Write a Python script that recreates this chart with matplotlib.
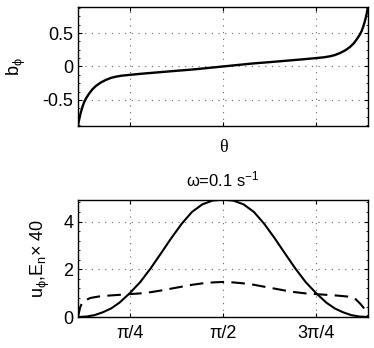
import numpy as np
import matplotlib.pyplot as plt
from matplotlib.ticker import MultipleLocator

plt.rcParams['font.family'] = ['Liberation Sans', 'DejaVu Sans']
plt.rcParams['mathtext.fontset'] = 'custom'
plt.rcParams['mathtext.rm'] = 'Liberation Sans'
plt.rcParams['mathtext.it'] = 'Liberation Sans'

# angles in degrees
theta_b = [20, 20.5, 21, 21.6, 22.3, 23, 24, 25.5, 27, 28.7, 31, 33.5, 36, 38.4, 41, 44.8, 52, 59.4, 67, 75.5, 82, 90,
           98, 104.5, 113, 120.6, 128, 135.2, 139, 141.6, 144, 146.5, 149, 151.3, 153, 154.5, 156, 157, 157.7, 158.4, 159, 159.5, 160]
b_phi = [-0.88, -0.80, -0.73, -0.66, -0.59, -0.53, -0.47, -0.40, -0.34, -0.29, -0.24, -0.20, -0.17, -0.152, -0.138,
         -0.126, -0.105, -0.086, -0.066, -0.045, -0.025, 0.0,
         0.025, 0.045, 0.066, 0.086, 0.105, 0.126, 0.138, 0.152, 0.17, 0.20, 0.24, 0.29, 0.34, 0.40, 0.47, 0.53,
         0.59, 0.66, 0.73, 0.80, 0.88]

theta_u = [20, 24, 28, 32, 36, 40, 45, 50, 55, 60, 65, 70, 75, 80, 85, 90,
           95, 100, 105, 110, 115, 120, 125, 130, 135, 140, 144, 148, 152, 156, 160]
u_phi = [0.0, 0.02, 0.08, 0.2, 0.36, 0.6, 1.0, 1.46, 2.03, 2.66, 3.3, 3.9, 4.4, 4.72, 4.88, 4.92,
         4.88, 4.72, 4.4, 3.9, 3.3, 2.66, 2.03, 1.46, 1.0, 0.6, 0.36, 0.2, 0.08, 0.02, 0.0]

theta_e = [20, 21, 22, 23.5, 26, 30, 35, 40, 45, 50, 55, 60, 65, 70, 75, 80, 85, 90,
           95, 100, 105, 110, 115, 120, 125, 130, 135, 140, 145, 150, 153.5, 156.5, 158, 160]
E_n40 = [0.0, 0.4, 0.6, 0.7, 0.8, 0.86, 0.9, 0.93, 0.96, 0.99, 1.04, 1.11, 1.19, 1.27, 1.35, 1.41, 1.45, 1.47,
         1.45, 1.41, 1.35, 1.27, 1.19, 1.11, 1.04, 0.99, 0.96, 0.93, 0.9, 0.86, 0.8, 0.54, 0.38, 0.05]

xt = [np.pi/4, np.pi/2, 3*np.pi/4]
xt_labels = ['π/4', 'π/2', '3π/4']
xlim = (np.pi/9, 8*np.pi/9)

fig = plt.figure(figsize=(3.74, 3.48), dpi=100)
ax1 = fig.add_axes([0.2086, 0.638, 0.775, 0.342])
ax2 = fig.add_axes([0.2086, 0.089, 0.775, 0.336])

def style(ax):
    ax.set_xlim(xlim)
    ax.set_xticks(xt)
    ax.grid(True, color='0.4', linewidth=0.8, dashes=(1, 5))
    ax.tick_params(direction='in', which='both', top=True, right=True, labelsize=13, length=3)
    ax.tick_params(which='minor', length=1.5)
    for s in ax.spines.values():
        s.set_linewidth(1.0)

ax1.plot(np.radians(theta_b), b_phi, color='k', lw=1.7)
style(ax1)
ax1.set_ylim(-0.89, 0.89)
ax1.set_yticks([-0.5, 0, 0.5])
ax1.set_yticklabels(['-0.5', '0', '0.5'])
ax1.yaxis.set_minor_locator(MultipleLocator(0.125))
ax1.set_xticklabels([])
ax1.set_xlabel('θ', fontsize=13, family='Liberation Serif', labelpad=6)
ax1.set_ylabel(r'b$_{\phi}$', fontsize=13, labelpad=10)

ax2.plot(np.radians(theta_u), u_phi, color='k', lw=1.5)
ax2.plot(np.radians(theta_e), E_n40, color='k', lw=1.5, dashes=(6.5, 3.5))
style(ax2)
ax2.set_ylim(0, 4.9)
ax2.set_yticks([0, 2, 4])
ax2.yaxis.set_minor_locator(MultipleLocator(0.4))
ax2.set_xticklabels(xt_labels)
ax2.tick_params(axis='x', pad=6)
ax2.set_ylabel(r'u$_{\phi}$,E$_n$$\times$ 40', fontsize=13, labelpad=8)
ax2.set_title(r'ω=0.1 s$^{-1}$', fontsize=12, pad=10)

fig.savefig('out.png', dpi=100)
